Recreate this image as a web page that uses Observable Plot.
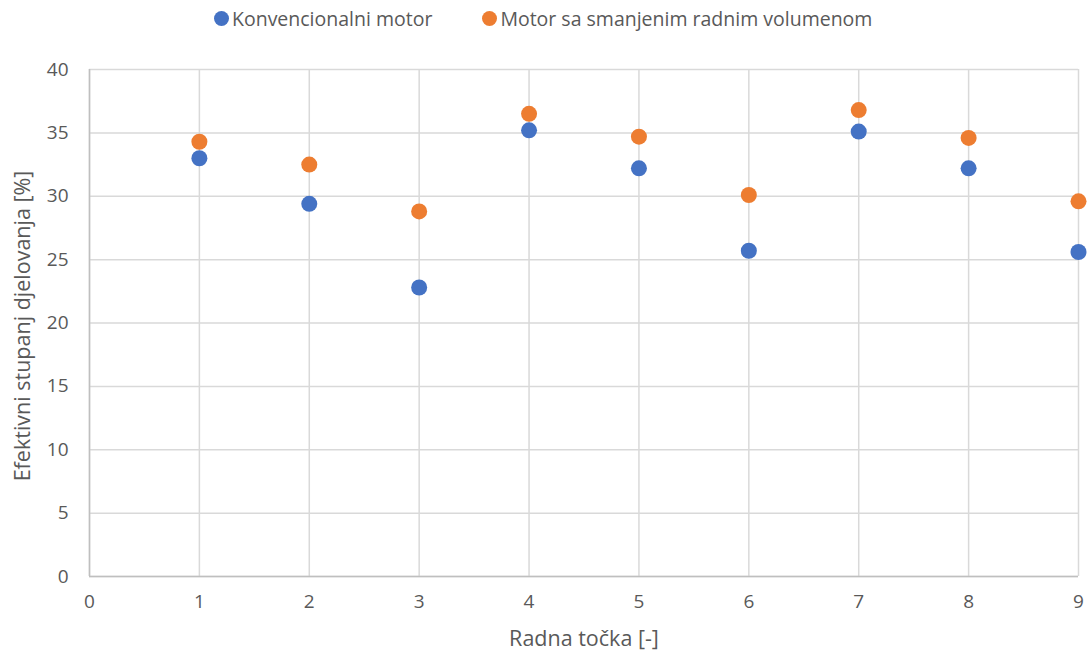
<!DOCTYPE html>
<html>
<head>
<meta charset="utf-8">
<script src="https://cdn.jsdelivr.net/npm/d3@7"></script>
<script src="https://cdn.jsdelivr.net/npm/@observablehq/plot@0.6"></script>
<style>
  body { margin: 0; background: #fff; font-family: "Open Sans", sans-serif; }
  #legend { height: 36px; display: flex; align-items: center; font-size: 19.5px; color: #595959; padding-left: 214px; }
  .item { display: flex; align-items: center; margin-right: 50px; }
  .sw { width: 15px; height: 15px; border-radius: 50%; margin-right: 3px; }
</style>
</head>
<body>
<div id="legend"></div>
<div id="chart"></div>
<script>
const points = [1, 2, 3, 4, 5, 6, 7, 8, 9];
const konvencionalni = [33.0, 29.4, 22.8, 35.2, 32.2, 25.7, 35.1, 32.2, 25.6];
const smanjeni = [34.3, 32.5, 28.8, 36.5, 34.7, 30.1, 36.8, 34.6, 29.6];
const seriesNames = ["Konvencionalni motor", "Motor sa smanjenim radnim volumenom"];
const seriesColors = ["#4472C4", "#ED7D31"];
const xTicks = [0, 1, 2, 3, 4, 5, 6, 7, 8, 9];
const yTicks = [0, 5, 10, 15, 20, 25, 30, 35, 40];

const data = [];
points.forEach((p, i) => {
  data.push({x: p, y: konvencionalni[i], s: seriesNames[0]});
});
points.forEach((p, i) => {
  data.push({x: p, y: smanjeni[i], s: seriesNames[1]});
});

const legend = document.getElementById("legend");
seriesNames.forEach((n, i) => {
  const it = document.createElement("div");
  it.className = "item";
  it.innerHTML = `<span class="sw" style="background:${seriesColors[i]}"></span><span>${n}</span>`;
  legend.appendChild(it);
});

const chart = Plot.plot({
  width: 1087,
  height: 619,
  marginLeft: 89,
  marginRight: 9,
  marginTop: 33,
  marginBottom: 79,
  style: {fontFamily: "Open Sans, sans-serif", fontSize: "19px", color: "#595959", background: "#fff"},
  x: {domain: [0, 9], ticks: xTicks, tickSize: 0, tickPadding: 18, label: null},
  y: {domain: [0, 40], ticks: yTicks, tickSize: 0, tickPadding: 20, label: null},
  color: {domain: seriesNames, range: seriesColors},
  marks: [
    Plot.gridX(xTicks, {stroke: "#d9d9d9", strokeOpacity: 1, strokeWidth: 1.5}),
    Plot.gridY(yTicks, {stroke: "#d9d9d9", strokeOpacity: 1, strokeWidth: 1.5}),
    Plot.ruleX([0], {stroke: "#bfbfbf", strokeWidth: 1.5}),
    Plot.ruleY([0], {stroke: "#bfbfbf", strokeWidth: 1.5}),
    Plot.axisX({ticks: xTicks, tickSize: 0, tickPadding: 18, fontSize: 19, label: null}),
    Plot.axisY({ticks: yTicks, tickSize: 0, tickPadding: 21, fontSize: 19, label: null}),
    Plot.dot(data, {x: "x", y: "y", fill: "s", r: 8}),
    Plot.text(["Radna točka [-]"], {frameAnchor: "bottom", dx: 0, dy: 69, fontSize: 21.5, fill: "#595959"}),
    Plot.text(["Efektivni stupanj djelovanja [%]"], {frameAnchor: "left", textAnchor: "middle", dx: -66, dy: 3, rotate: -90, fontSize: 21.5, fill: "#595959"})
  ]
});
document.getElementById("chart").appendChild(chart);
</script>
</body>
</html>
